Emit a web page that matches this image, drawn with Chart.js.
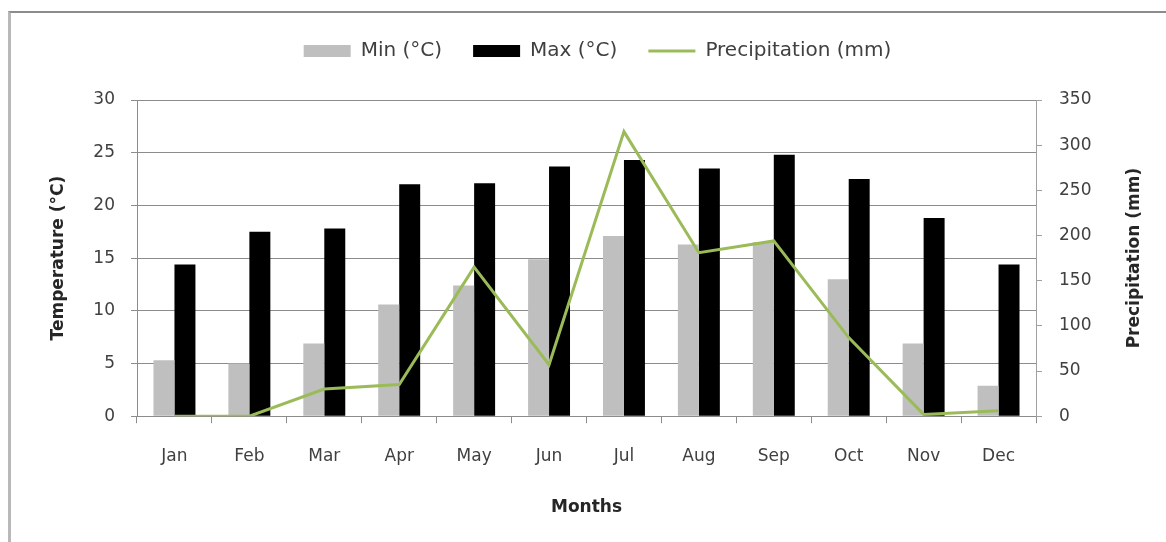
<!DOCTYPE html>
<html><head><meta charset="utf-8">
<script src="https://cdn.jsdelivr.net/npm/chart.js@4.4.0/dist/chart.umd.min.js"></script>
<style>
html,body{margin:0;padding:0;background:#fff;overflow:hidden;}
#wrap{position:relative;width:1166px;height:542px;}
#frame{position:absolute;left:8px;top:11px;width:1300px;height:700px;border-left:3px solid #b8b8b8;border-top:2px solid #8c8c8c;box-sizing:border-box;}
#holder{position:absolute;left:0;top:0;width:1166px;height:542px;}
</style></head><body>
<div id="wrap"><div id="frame"></div><div id="holder"><canvas id="c"></canvas></div></div>
<script>
const months = ['Jan','Feb','Mar','Apr','May','Jun','Jul','Aug','Sep','Oct','Nov','Dec'];
const minTemp = [5.3, 5.0, 6.9, 10.6, 12.4, 14.9, 17.1, 16.3, 16.5, 13.0, 6.9, 2.9];
const maxTemp = [14.4, 17.5, 17.8, 22.0, 22.1, 23.7, 24.3, 23.5, 24.8, 22.5, 18.8, 14.4];
const precipitation = [0, 0, 30, 35, 165, 57, 315, 181, 194, 87, 2, 6];
const tempTicks = [0, 30, 5];
const precipTicks = [0, 350, 50];

const FONT = '"DejaVu Sans", sans-serif';
const PAD_LEFT = 38, PAD_RIGHT = 9;
const PLOT_LEFT = 137, PLOT_RIGHT = 1036;

const rightTitle = {
  id: 'rightTitle',
  afterDraw(chart) {
    const ctx = chart.ctx;
    const a = chart.chartArea;
    ctx.save();
    ctx.translate(1135, (a.top + a.bottom) / 2);
    ctx.rotate(-Math.PI / 2);
    ctx.font = 'bold 17px ' + FONT;
    ctx.fillStyle = '#262626';
    ctx.textAlign = 'center';
    ctx.textBaseline = 'middle';
    ctx.fillText('Precipitation (mm)', 0, 0);
    ctx.restore();
  }
};

new Chart(document.getElementById('c'), {
  data: {
    labels: months,
    datasets: [
      { type: 'bar', label: 'Min (°C)', data: minTemp, backgroundColor: '#bfbfbf', borderWidth: 0,
        yAxisID: 'y', order: 2, pointStyle: 'rect', categoryPercentage: 0.56, barPercentage: 1.0 },
      { type: 'bar', label: 'Max (°C)', data: maxTemp, backgroundColor: '#000000', borderWidth: 0,
        yAxisID: 'y', order: 2, pointStyle: 'rect', categoryPercentage: 0.56, barPercentage: 1.0 },
      { type: 'line', label: 'Precipitation (mm)', data: precipitation, borderColor: '#9bbb59',
        backgroundColor: '#9bbb59', borderWidth: 3, pointRadius: 0, tension: 0,
        yAxisID: 'y2', order: 0, pointStyle: 'line' }
    ]
  },
  options: {
    responsive: true,
    maintainAspectRatio: false,
    devicePixelRatio: 1,
    animation: false,
    layout: { padding: { top: 10, left: PAD_LEFT, right: PAD_RIGHT, bottom: 16 } },
    plugins: {
      legend: {
        position: 'top',
        labels: {
          usePointStyle: true,
          pointStyleWidth: 47,
          boxHeight: 12,
          padding: 31,
          color: '#404040',
          font: { family: FONT, size: 20 },
          sort: (a, b) => a.datasetIndex - b.datasetIndex
        }
      },
      subtitle: {
        display: true,
        text: ' ',
        weight: 500,
        font: { size: 10 },
        padding: { top: 0, bottom: 17 }
      },
      tooltip: { enabled: false }
    },
    scales: {
      x: {
        offset: true,
        grid: { display: true, drawOnChartArea: false, offset: true, tickLength: 7, color: '#8c8c8c' },
        border: { color: '#8c8c8c' },
        ticks: { padding: 23, color: '#404040', font: { family: FONT, size: 17 } },
        title: { display: true, text: 'Months', color: '#262626', font: { family: FONT, size: 17, weight: 'bold' },
                 padding: { top: 8, bottom: 8 } }
      },
      y: {
        position: 'left',
        min: tempTicks[0], max: tempTicks[1],
        ticks: { stepSize: tempTicks[2], padding: 16, color: '#404040', font: { family: FONT, size: 17 } },
        grid: { color: '#8c8c8c', tickLength: 6 },
        border: { color: '#8c8c8c' },
        title: { display: true, text: 'Temperature (°C)', color: '#262626',
                 font: { family: FONT, size: 17, weight: 'bold' }, padding: { top: 10, bottom: 0 } },
        afterFit(scale) { scale.width = PLOT_LEFT - PAD_LEFT; }
      },
      y2: {
        position: 'right',
        min: precipTicks[0], max: precipTicks[1],
        ticks: { stepSize: precipTicks[2], padding: 17, color: '#404040', font: { family: FONT, size: 17 } },
        grid: { drawOnChartArea: false, color: '#a0a0a0', tickLength: 6 },
        border: { color: '#a0a0a0' },
        afterFit(scale) { scale.width = 1166 - PAD_RIGHT - PLOT_RIGHT; }
      }
    }
  },
  plugins: [rightTitle]
});
</script>
</body></html>
